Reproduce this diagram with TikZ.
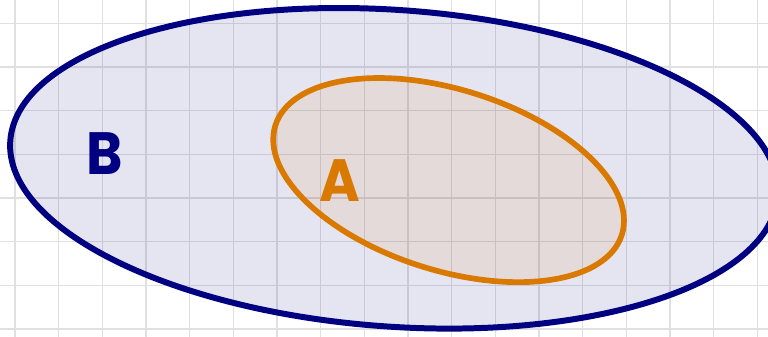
\documentclass[tikz,border=0pt]{standalone}
\usepackage{fontspec}
\setmainfont{Poppins}
\usepackage{tikz}
\usetikzlibrary{shapes.geometric}
\definecolor{setnavy}{HTML}{000080}
\definecolor{setorange}{HTML}{D97900}

\begin{document}
\begin{tikzpicture}[
    gridline/.style={draw=black!12, line width=1pt},
    setbox/.style={ellipse, inner sep=0pt, outer sep=0pt, fill opacity=0.1},
    outerset/.style={setbox, draw=setnavy, fill=setnavy, line width=3.9pt, minimum width=17.62cm, minimum height=7.25cm},
    innerset/.style={setbox, draw=setorange, fill=setorange, line width=3.7pt, minimum width=8.32cm, minimum height=4.14cm},
    setlabel/.style={font=\fontsize{36}{40}\selectfont\bfseries, inner sep=0pt, yscale=1.08},
]

% Frame and grid
\useasboundingbox (-0.343,0.534) rectangle (17.244,-7.183);
\draw[gridline] (-1,1) grid (18,-8);

% Sets
\node[outerset, rotate=-4.1] (B) at (8.68,-3.32) {};
\node[innerset, rotate=-17.5] (A) at (9.93,-3.59) {};

% Labels
\node[setlabel, text=setnavy] (labB) at (2.06,-2.98) {B};
\node[setlabel, text=setorange] (labA) at (7.44,-3.60) {A};

\end{tikzpicture}
\end{document}
